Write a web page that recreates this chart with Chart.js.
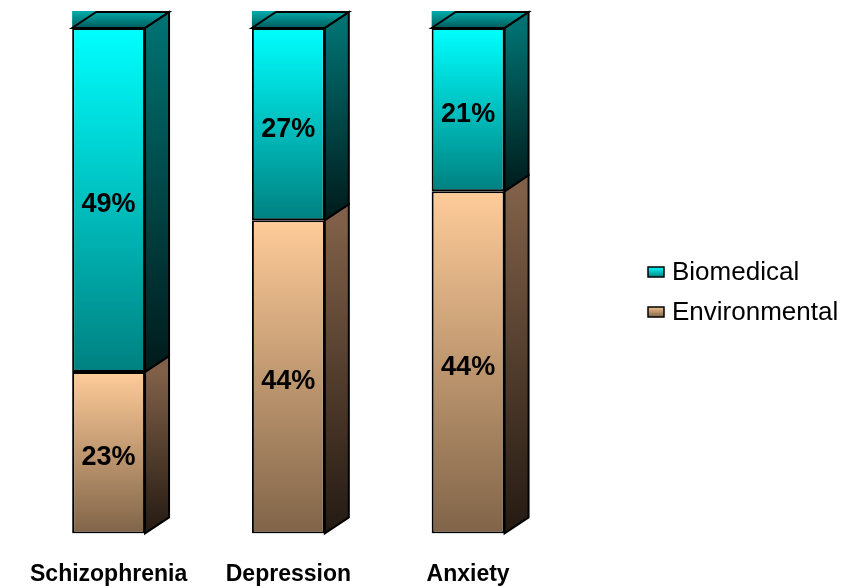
<!DOCTYPE html>
<html>
<head>
<meta charset="utf-8">
<script src="https://cdn.jsdelivr.net/npm/chart.js@4.4.0/dist/chart.umd.min.js"></script>
<style>
  html, body { margin: 0; padding: 0; background: #fff; }
  canvas { display: block; }
</style>
</head>
<body>
<canvas id="causeChart" width="843" height="586"></canvas>
<script>
const categories = ["Schizophrenia", "Depression", "Anxiety"];
const environmental = [23, 44, 44];
const biomedical = [49, 27, 21];

// every column is stretched to 100% of its own total
const totals = categories.map((c, i) => environmental[i] + biomedical[i]);
const envShare = environmental.map((v, i) => v / totals[i] * 100);
const bioShare = biomedical.map((v, i) => v / totals[i] * 100);

const DEPTH_X = 24, DEPTH_Y = 16;
const FONT = "'Liberation Sans', Arial, Helvetica, sans-serif";

const palette = {
    env: { front: ["#ffcc99", "#806448"], side: ["#806048", "#241a12"], box: ["#f0c090", "#806448"] },
    bio: { front: ["#00ffff", "#008080"], side: ["#007070", "#001a1a"], top: ["#00a8a8", "#005c5c"], box: ["#00ffff", "#008080"] }
};

function vGrad(ctx, y0, y1, stops) {
    const g = ctx.createLinearGradient(0, y0, 0, y1);
    g.addColorStop(0, stops[0]);
    g.addColorStop(1, stops[1]);
    return g;
}

// front face gradient runs over each segment separately
function frontFill(key) {
    return (c) => {
        const y = c.chart.scales.y;
        const i = c.dataIndex;
        if (!y || i === undefined) return palette[key].front[0];
        const lo = key === "env" ? 0 : envShare[i];
        const hi = lo + (key === "env" ? envShare[i] : bioShare[i]);
        const y0 = y.getPixelForValue(hi), y1 = y.getPixelForValue(lo);
        if (!isFinite(y0) || !isFinite(y1)) return palette[key].front[0];
        return vGrad(c.chart.ctx, y0, y1, palette[key].front);
    };
}

const depthPlugin = {
    id: "depth",
    afterDatasetsDraw(chart) {
        const ctx = chart.ctx;
        [["env", 0, environmental], ["bio", 1, biomedical]].forEach(([key, di, values]) => {
            chart.getDatasetMeta(di).data.forEach((bar, i) => {
                const left = bar.x - bar.width / 2, right = bar.x + bar.width / 2;
                const top = bar.y, bottom = bar.base;
                ctx.save();
                ctx.lineWidth = 2;
                ctx.strokeStyle = "#000";
                ctx.lineJoin = "miter";

                if (key === "bio") {
                    ctx.fillStyle = vGrad(ctx, top - DEPTH_Y, top, palette.bio.top);
                    ctx.fillRect(left, top - DEPTH_Y - 1, bar.width + DEPTH_X, DEPTH_Y + 1);
                }

                // right-hand side face
                ctx.beginPath();
                ctx.moveTo(right, top);
                ctx.lineTo(right + DEPTH_X, top - DEPTH_Y);
                ctx.lineTo(right + DEPTH_X, bottom - DEPTH_Y);
                ctx.lineTo(right, bottom);
                ctx.closePath();
                ctx.fillStyle = vGrad(ctx, top, bottom, palette[key].side);
                ctx.fill();
                ctx.stroke();

                if (key === "bio") {
                    ctx.beginPath();
                    ctx.moveTo(left, top);
                    ctx.lineTo(left + DEPTH_X, top - DEPTH_Y);
                    ctx.lineTo(right + DEPTH_X, top - DEPTH_Y);
                    ctx.lineTo(right, top);
                    ctx.closePath();
                    ctx.stroke();
                }

                // value label
                ctx.fillStyle = "#000";
                ctx.font = "bold 27px " + FONT;
                ctx.textAlign = "center";
                ctx.textBaseline = "middle";
                ctx.fillText(values[i] + "%", bar.x, (top + bottom) / 2 + 5);
                ctx.restore();
            });
        });
    },
    afterDraw(chart) {
        const ctx = chart.ctx;
        ctx.save();
        [["Biomedical", "bio", 272], ["Environmental", "env", 312]].forEach(([text, key, cy]) => {
            ctx.fillStyle = vGrad(ctx, cy - 5, cy + 5, palette[key].box);
            ctx.fillRect(648, cy - 5, 16, 10);
            ctx.lineWidth = 1.5;
            ctx.strokeStyle = "#000";
            ctx.strokeRect(648, cy - 5, 16, 10);
            ctx.fillStyle = "#000";
            ctx.font = "26px " + FONT;
            ctx.textAlign = "left";
            ctx.textBaseline = "middle";
            ctx.fillText(text, 672, cy + 1);
        });
        ctx.restore();
    }
};

new Chart(document.getElementById("causeChart"), {
    type: "bar",
    data: {
        labels: categories,
        datasets: [
            {
                label: "Environmental",
                data: envShare,
                backgroundColor: frontFill("env"),
                borderColor: "#000",
                borderWidth: 2,
                borderSkipped: false,
                categoryPercentage: 73 / 180,
                barPercentage: 1
            },
            {
                label: "Biomedical",
                data: bioShare,
                backgroundColor: frontFill("bio"),
                borderColor: "#000",
                borderWidth: 2,
                borderSkipped: false,
                categoryPercentage: 73 / 180,
                barPercentage: 1
            }
        ]
    },
    options: {
        responsive: false,
        animation: false,
        layout: { padding: { left: 18, right: 285, top: 28, bottom: -29 } },
        plugins: {
            legend: { display: false },
            tooltip: { enabled: false }
        },
        scales: {
            x: {
                stacked: true,
                grid: { display: false, drawTicks: false },
                border: { display: false },
                ticks: {
                    color: "#000",
                    autoSkip: false,
                    maxRotation: 0,
                    padding: 27,
                    font: { family: FONT, size: 23, weight: "bold" }
                }
            },
            y: { stacked: true, display: false, min: 0, max: 100 }
        }
    },
    plugins: [depthPlugin]
});
</script>
</body>
</html>
